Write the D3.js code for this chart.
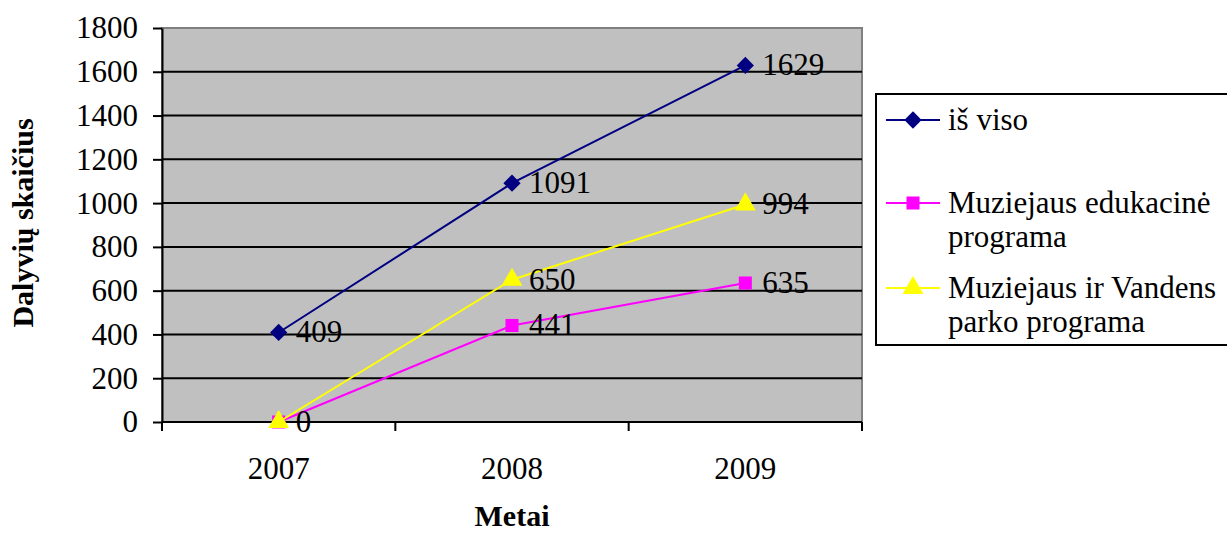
<!DOCTYPE html>
<html>
<head>
<meta charset="utf-8">
<script src="https://cdn.jsdelivr.net/npm/d3@7"></script>
<style>
  body { margin: 0; background: #fff; }
  text { font-family: "Liberation Serif", "Times New Roman", serif; }
</style>
</head>
<body>
<div id="vis"></div>
<script>
// datos del grafico
const YEARS = ["2007", "2008", "2009"];
const SERIES_NAMES = ["iš viso", "Muziejaus edukacinė programa", "Muziejaus ir Vandens parko programa"];
const LEGEND_LINES = [["iš viso"], ["Muziejaus edukacinė", "programa"], ["Muziejaus ir Vandens", "parko programa"]];
const VALUES_TOTAL = [409, 1091, 1629];
const VALUES_EDU = [0, 441, 635];
const VALUES_PARK = [0, 650, 994];
const Y_TICKS = [0, 200, 400, 600, 800, 1000, 1200, 1400, 1600, 1800];

const WIDTH = 1227;
const HEIGHT = 534;
const PLOT = { left: 162, top: 28, right: 862, bottom: 422 };
const FONT = 31;

const COLORS = ["#000080", "#FF00FF", "#FFFF00"];
const SYMBOLS = [d3.symbolDiamond2, d3.symbolSquare, d3.symbolTriangle];

const series = [VALUES_TOTAL, VALUES_EDU, VALUES_PARK].map((vals, i) => ({
  name: SERIES_NAMES[i],
  color: COLORS[i],
  symbol: SYMBOLS[i],
  values: vals.map((v, j) => ({ year: YEARS[j], value: v })),
}));

const svg = d3.select("#vis").append("svg")
  .attr("width", WIDTH).attr("height", HEIGHT);

const xScale = d3.scaleBand().domain(YEARS).range([PLOT.left, PLOT.right]);
const yScale = d3.scaleLinear().domain([0, 1800]).range([PLOT.bottom, PLOT.top]);
const cx = (d) => xScale(d.year) + xScale.bandwidth() / 2;

// fondo gris
svg.append("rect")
  .attr("x", PLOT.left).attr("y", PLOT.top)
  .attr("width", PLOT.right - PLOT.left).attr("height", PLOT.bottom - PLOT.top)
  .attr("fill", "#C0C0C0").attr("stroke", "#808080").attr("stroke-width", 2);

// lineas de grilla
svg.append("g").selectAll("line")
  .data(Y_TICKS.filter((t) => t > 0 && t < 1800))
  .join("line")
  .attr("x1", PLOT.left).attr("x2", PLOT.right)
  .attr("y1", (d) => yScale(d)).attr("y2", (d) => yScale(d))
  .attr("stroke", "#000").attr("stroke-width", 2);

// eje Y
const yAxis = d3.axisLeft(yScale).tickValues(Y_TICKS).tickFormat(d3.format("d"))
  .tickSize(9).tickPadding(15).tickSizeOuter(0);
const gy = svg.append("g").attr("transform", `translate(${PLOT.left},0)`).call(yAxis);
gy.select(".domain").attr("stroke", "#000").attr("stroke-width", 2);
gy.selectAll(".tick line").attr("stroke", "#000").attr("stroke-width", 2);
gy.selectAll(".tick text").attr("font-size", FONT).attr("fill", "#000");

// eje X con ticks en los bordes de las bandas
const xBorders = YEARS.map((y) => xScale(y)).concat([PLOT.right]);
svg.append("line")
  .attr("x1", PLOT.left).attr("x2", PLOT.right)
  .attr("y1", PLOT.bottom).attr("y2", PLOT.bottom)
  .attr("stroke", "#000").attr("stroke-width", 2);
svg.append("g").selectAll("line").data(xBorders).join("line")
  .attr("x1", (d) => d).attr("x2", (d) => d)
  .attr("y1", PLOT.bottom).attr("y2", PLOT.bottom + 9)
  .attr("stroke", "#000").attr("stroke-width", 2);
svg.append("g").selectAll("text").data(YEARS).join("text")
  .attr("x", (d) => xScale(d) + xScale.bandwidth() / 2)
  .attr("y", 479)
  .attr("text-anchor", "middle")
  .attr("font-size", FONT)
  .text((d) => d);

// lineas y marcadores
const line = d3.line().x(cx).y((d) => yScale(d.value));

const gSeries = svg.append("g").selectAll("g").data(series).join("g");
gSeries.append("path")
  .attr("d", (s) => line(s.values))
  .attr("fill", "none")
  .attr("stroke", (s) => s.color)
  .attr("stroke-width", 2);
gSeries.selectAll("path.marker")
  .data((s) => s.values.map((v) => ({ ...v, s })))
  .join("path")
  .attr("class", "marker")
  .attr("transform", (d) => `translate(${cx(d)},${yScale(d.value)})`)
  .attr("d", (d) => d3.symbol().type(d.s.symbol).size(d.s.symbol === d3.symbolSquare ? 170 : 190)())
  .attr("fill", (d) => d.s.color);

// etiquetas de valores (el 0 se muestra solo una vez)
const labels = series.flatMap((s, i) =>
  s.values.filter((v) => !(i === 2 && v.value === 0))
);
svg.append("g").selectAll("text").data(labels).join("text")
  .attr("x", (d) => cx(d) + 17)
  .attr("y", (d) => yScale(d.value) + 10)
  .attr("font-size", FONT)
  .text((d) => d.value);

// titulos de ejes
svg.append("text")
  .attr("transform", "translate(33,223) rotate(-90)")
  .attr("text-anchor", "middle")
  .attr("font-size", 30).attr("font-weight", "bold")
  .text("Dalyvių skaičius");
svg.append("text")
  .attr("x", 512).attr("y", 526)
  .attr("text-anchor", "middle")
  .attr("font-size", 30).attr("font-weight", "bold")
  .text("Metai");

// leyenda
const legend = svg.append("g");
legend.append("rect")
  .attr("x", 876).attr("y", 94).attr("width", 360).attr("height", 251)
  .attr("fill", "#fff").attr("stroke", "#000").attr("stroke-width", 2);
const rowY = [120, 203, 288];
const items = legend.selectAll("g").data(series).join("g")
  .attr("transform", (d, i) => `translate(0,${rowY[i]})`);
items.append("line")
  .attr("x1", 886).attr("x2", 940)
  .attr("stroke", (d) => d.color).attr("stroke-width", 2);
items.append("path")
  .attr("transform", "translate(913,0)")
  .attr("d", (d) => d3.symbol().type(d.symbol).size(d.symbol === d3.symbolSquare ? 170 : 190)())
  .attr("fill", (d) => d.color);
items.append("text")
  .attr("x", 948).attr("y", 10)
  .attr("font-size", FONT)
  .selectAll("tspan")
  .data((d, i) => LEGEND_LINES[i])
  .join("tspan")
  .attr("x", 948)
  .attr("dy", (d, j) => (j === 0 ? 0 : 34))
  .text((d) => d);
</script>
</body>
</html>
